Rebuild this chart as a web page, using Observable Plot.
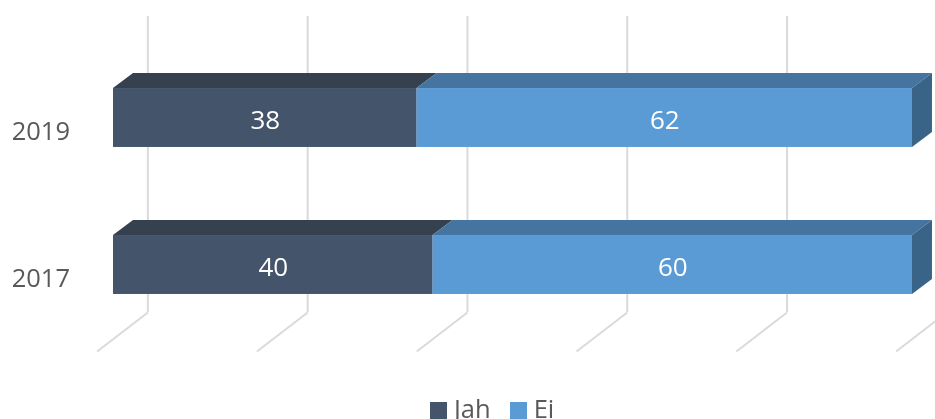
<!DOCTYPE html>
<html>
<head>
<meta charset="utf-8">
<script src="https://cdn.jsdelivr.net/npm/d3@7"></script>
<script src="https://cdn.jsdelivr.net/npm/@observablehq/plot@0.6"></script>
<style>
  html, body { margin: 0; padding: 0; background: #fff; width: 935px; height: 419px; overflow: hidden; }
  #chart svg { display: block; filter: blur(0.45px); }
  #chart > div, #chart figure { margin: 0; }
  .legend-row { position: absolute; left: 430px; top: 402px; height: 17px; overflow: visible; filter: blur(0.45px); }
  .legend-row svg { display: inline-block; }
  .legend-row > div { margin: 0 !important; min-height: 17px !important; line-height: 13px !important; }
  .legend-row [class$="-swatch"] { margin-right: 19px !important; line-height: 13px !important; align-items: flex-start !important; }
  .legend-row [class$="-swatch"] svg { margin-right: 7px !important; }
</style>
</head>
<body>
<div id="chart"></div>
<script>
// Data
const years = [2019, 2017];
const jah = [38, 40];
const ei = [62, 60];
const seriesNames = ["Jah", "Ei"];
const gridTicks = [0, 20, 40, 60, 80, 100];

// Colours
const seriesColors = ["#44546A", "#5B9BD5"];
const topColors = ["#36414F", "#44749F"];
const sideColor = "#3A6487";
const gridColor = "#DADADA";
const labelColor = "#595959";

// 3D projection, in data units of the two scales
const halfBar = 0.401;
const depthX = 2.5;
const depthY = 0.204;
const gridBackX = 4.3;
const gridFrontX = -2.05;
const gridTop = 2020.381;
const gridBack = 2016.354;
const gridFront = 2015.823;

const segments = years.flatMap((year, i) => [
  {year, series: seriesNames[0], start: 0, end: jah[i], value: jah[i], top: topColors[0]},
  {year, series: seriesNames[1], start: jah[i], end: 100, value: ei[i], top: topColors[1]}
]);

const topFaces = segments.flatMap((d) => [
  {key: d.year + d.series, top: d.top, x1: d.start, x2: d.end, y: d.year + halfBar},
  {key: d.year + d.series, top: d.top, x1: d.start + depthX, x2: d.end + depthX, y: d.year + halfBar + depthY}
]);

const sideFaces = years.flatMap((year) => [
  {key: year, x: 100, y1: year - halfBar, y2: year + halfBar},
  {key: year, x: 100 + depthX, y1: year - halfBar + depthY, y2: year + halfBar + depthY}
]);

const fig = Plot.plot({
  width: 935,
  height: 392,
  marginLeft: 113,
  marginRight: 23,
  marginTop: 0,
  marginBottom: 0,
  style: {background: "#fff", overflow: "hidden"},
  x: {domain: [0, 100], axis: null},
  y: {type: "linear", domain: [2015, 2021], range: [411.5, -29.5], axis: null},
  color: {domain: seriesNames, range: seriesColors},
  marks: [
    Plot.ruleX(gridTicks, {x: (d) => d + gridBackX, y1: gridTop, y2: gridBack, stroke: gridColor, strokeWidth: 2}),
    Plot.link(gridTicks, {x1: (d) => d + gridBackX, y1: gridBack, x2: (d) => d + gridFrontX, y2: gridFront, stroke: gridColor, strokeWidth: 2}),
    Plot.area(topFaces, {x1: "x1", x2: "x2", y1: "y", y2: "y", z: "key", fill: (d) => d.top, curve: "linear"}),
    Plot.area(sideFaces, {x1: "x", x2: "x", y1: "y1", y2: "y2", z: "key", fill: sideColor, curve: "linear"}),
    Plot.rect(segments, {x1: "start", x2: "end", y1: (d) => d.year - halfBar, y2: (d) => d.year + halfBar, fill: "series"}),
    Plot.text(segments, {x: (d) => (d.start + d.end) / 2, y: "year", text: "value", fill: "#fff", fontSize: 26, fontFamily: "Open Sans", dy: 2.5}),
    Plot.axisY({anchor: "left", ticks: years, tickFormat: "d", tickSize: 0, tickPadding: 43.5, fontSize: 25.5, fontFamily: "Open Sans", fill: labelColor, dy: 14, label: null})
  ]
});
document.getElementById("chart").appendChild(fig);

const legend = fig.legend("color", {legend: "swatches", swatchSize: 17, style: {fontSize: "25.5px", fontFamily: "Open Sans", color: labelColor}});
const row = document.createElement("div");
row.className = "legend-row";
row.appendChild(legend);
document.body.appendChild(row);
</script>
</body>
</html>
